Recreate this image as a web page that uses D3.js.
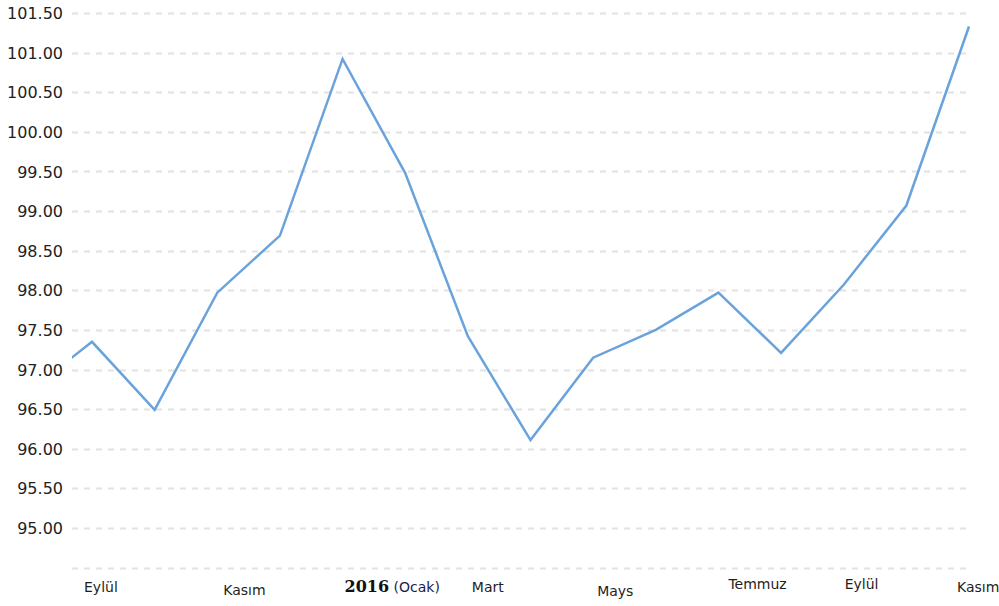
<!DOCTYPE html>
<html><head><meta charset="utf-8">
<script src="https://cdn.jsdelivr.net/npm/d3@7"></script>
<style>html,body{margin:0;padding:0;background:#fff;}svg{display:block;}</style>
</head><body>
<svg id="chart" width="999" height="606"></svg>
<script>
// ---- data ----
const months = ["Ağustos","Eylül","Ekim","Kasım","Aralık","Ocak","Şubat","Mart","Nisan","Mayıs","Haziran","Temmuz","Ağustos","Eylül","Ekim","Kasım"];
const values = [96.73, 97.35, 96.49, 97.97, 98.69, 100.92, 99.48, 97.42, 96.11, 97.15, 97.50, 97.97, 97.21, 98.07, 99.07, 101.33];
const tickIndex = [1, 3, 5, 7, 9, 11, 13, 15];
const tickLabels = ["Eylül", "Kasım", "2016", "Mart", "Mays", "Temmuz", "Eylül", "Kasım"];
const tickSub = ["", "", " (Ocak)", "", "", "", "", ""];
const yTicks = [94.5, 95, 95.5, 96, 96.5, 97, 97.5, 98, 98.5, 99, 99.5, 100, 100.5, 101, 101.5];

// ---- layout ----
const svg = d3.select("#chart");
const gridLeft = 72, gridRight = 967;
const x = d3.scaleLinear().domain([1, 15]).range([92, 969]);
const y = d3.scaleLinear().domain([94.5, 101.5]).range([567.6, 13]);
const labelNudge = [[-8, 0], [6, 3], [2, 0], [4, 0], [4, 4], [10, -3], [1, -3], [-12, 0]];

svg.append("clipPath").attr("id", "clip").append("rect")
  .attr("x", gridLeft).attr("y", 0).attr("width", 999 - gridLeft).attr("height", 606);

// grid
svg.append("g").selectAll("line").data(yTicks).join("line")
  .attr("x1", gridLeft).attr("x2", gridRight)
  .attr("y1", d => Math.round(y(d)) + 0.5).attr("y2", d => Math.round(y(d)) + 0.5)
  .attr("stroke", "#e2e2e2").attr("stroke-width", 2).attr("stroke-dasharray", "6,6");

// y axis labels
const yAxis = d3.axisLeft(y).tickValues(yTicks.filter(d => d >= 95))
  .tickFormat(d3.format(".2f")).tickSize(0).tickPadding(0);
const ya = svg.append("g").attr("transform", "translate(63,0)").call(yAxis);
ya.select(".domain").remove();
ya.selectAll("text").attr("font-family", "DejaVu Sans, Verdana, sans-serif")
  .attr("font-size", 16).attr("fill", "#222").attr("dy", "0.35em");

// line
const line = d3.line().x((d, i) => x(i)).y(d => y(d));
svg.append("path").datum(values).attr("clip-path", "url(#clip)")
  .attr("d", line).attr("fill", "none").attr("stroke", "#6aa3db")
  .attr("stroke-width", 2.5).attr("stroke-linejoin", "miter");

// x labels
const xl = svg.append("g");
tickIndex.forEach((idx, k) => {
  const t = xl.append("text")
    .attr("x", x(idx) + labelNudge[k][0]).attr("y", 592 + labelNudge[k][1])
    .attr("font-family", "DejaVu Sans, Tahoma, sans-serif").attr("font-size", 14)
    .attr("fill", "#1e1e1e");
  if (tickSub[k]) {
    t.append("tspan").text(tickLabels[k]).attr("font-weight", "bold")
      .attr("font-family", "DejaVu Serif, Georgia, serif").attr("font-size", 16).attr("fill", "#111");
    t.append("tspan").text(tickSub[k]).attr("fill", "#1c1c4a");
  } else {
    t.text(tickLabels[k]);
  }
});
</script>
</body></html>
